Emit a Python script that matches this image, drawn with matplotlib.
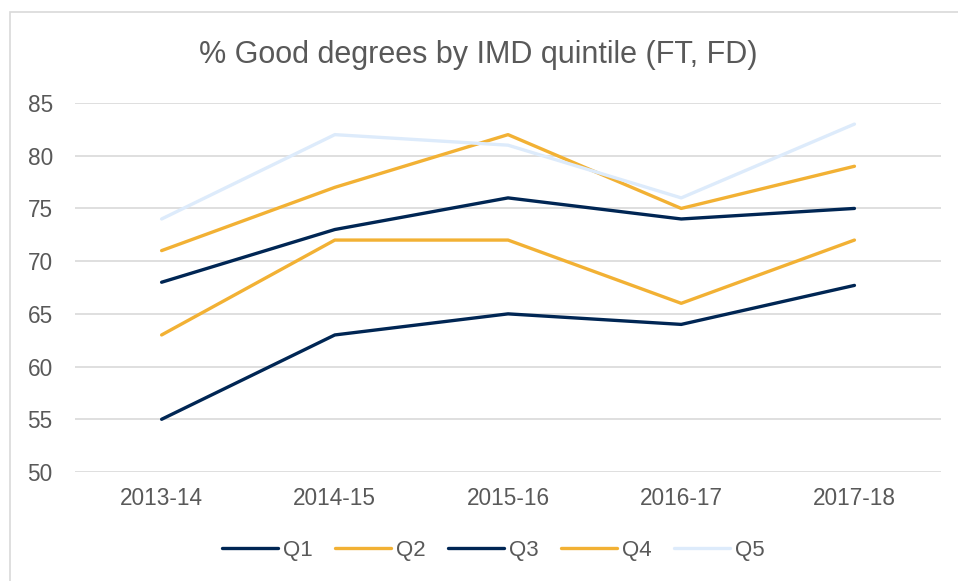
import matplotlib.pyplot as plt
from matplotlib.patches import Rectangle

plt.rcParams['font.family'] = ['Liberation Sans', 'DejaVu Sans']

years = ['2013-14', '2014-15', '2015-16', '2016-17', '2017-18']
q1 = [55, 63, 65, 64, 67.7]
q2 = [63, 72, 72, 66, 72]
q3 = [68, 73, 76, 74, 75]
q4 = [71, 77, 82, 75, 79]
q5 = [74, 82, 81, 76, 83]

navy = '#002654'
orange = '#F2B134'
light = '#DDEBFB'
grey = '#595959'

fig = plt.figure(figsize=(9.58, 5.81), dpi=100)
ax = fig.add_axes([0.0783, 0.1876, 0.9040, 0.6351])

# outer chart border (right/bottom edges run off the image)
fig.patches.append(Rectangle((10 / 958, -0.1), 1.2, 1.1 - 12 / 581,
                             transform=fig.transFigure, fill=False,
                             edgecolor='#D9D9D9', linewidth=1.2))

series = [('Q1', q1, navy), ('Q2', q2, orange), ('Q3', q3, navy),
          ('Q4', q4, orange), ('Q5', q5, light)]
x = range(len(years))
for name, vals, col in series:
    ax.plot(x, vals, color=col, linewidth=2.4, label=name,
            solid_capstyle='round', solid_joinstyle='round')

ax.set_xlim(-0.5, len(years) - 0.5)
ax.set_ylim(50, 85)
ax.set_yticks(range(50, 86, 5))
ax.set_xticks(list(x))
ax.set_xticklabels(years)
ax.grid(axis='y', color='#D9D9D9', linewidth=1.2)
ax.set_axisbelow(True)
for s in ax.spines.values():
    s.set_visible(False)
ax.tick_params(length=0, labelsize=16.3, labelcolor=grey)
ax.tick_params(axis='y', pad=16)
ax.tick_params(axis='x', pad=11)

fig.text(0.499, 0.905, '% Good degrees by IMD quintile (FT, FD)',
         ha='center', va='center', fontsize=22, color=grey)

fig.legend(loc='center', bbox_to_anchor=(0.515, 0.053), ncol=5,
           frameon=False, fontsize=16, labelcolor=grey,
           handlelength=2.5, handletextpad=0.25, columnspacing=1.0)

fig.savefig('out.png', dpi=100)
